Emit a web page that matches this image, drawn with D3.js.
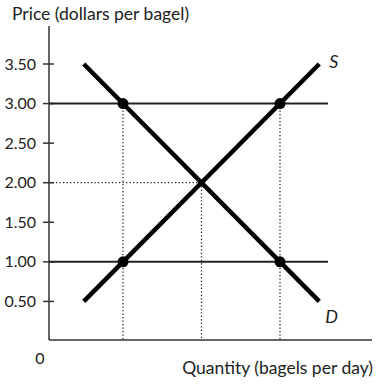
<!DOCTYPE html>
<html>
<head>
<meta charset="utf-8">
<title>bagel market</title>
<script src="https://cdnjs.cloudflare.com/ajax/libs/d3/7.8.5/d3.min.js"></script>
<style>
  html, body { margin: 0; padding: 0; background: #fff; }
  text { font-family: Lato, "Open Sans", sans-serif; fill: #222; }
</style>
</head>
<body>
<svg id="chart" width="377" height="384"></svg>
<script>
// price ticks (dollars per bagel)
var priceTicks = [0.5, 1, 1.5, 2, 2.5, 3, 3.5];
var priceLabels = ['0.50', '1.00', '1.50', '2.00', '2.50', '3.00', '3.50'];

// curves as [quantity, price] end points
var supply = [[0.5, 0.5], [3.5, 3.5]];
var demand = [[0.5, 3.5], [3.5, 0.5]];

// horizontal price lines
var priceLines = [3, 1];

// marked points on the curves
var points = [[1, 3], [3, 3], [1, 1], [3, 1]];
var equilibrium = [2, 2];

var svg = d3.select('#chart');

var x = d3.scaleLinear().domain([0, 4]).range([44.5, 358.5]);
var y = d3.scaleLinear().domain([0, 3.5]).range([341, 64]);

var axisX = 49, axisY = 340;

// axes
svg.append('line')
  .attr('x1', axisX).attr('x2', axisX)
  .attr('y1', 26).attr('y2', axisY)
  .attr('stroke', '#333').attr('stroke-width', 1.5);
svg.append('line')
  .attr('x1', axisX).attr('x2', 372)
  .attr('y1', axisY).attr('y2', axisY)
  .attr('stroke', '#333').attr('stroke-width', 1.5);

// y ticks
var tick = svg.selectAll('.tick')
  .data(priceTicks)
  .enter().append('g')
  .attr('class', 'tick')
  .attr('transform', function(d) { return 'translate(0,' + y(d) + ')'; });
tick.append('line')
  .attr('x1', 43).attr('x2', 54)
  .attr('stroke', '#333').attr('stroke-width', 1.5);
tick.append('text')
  .attr('x', 36).attr('dy', '0.35em')
  .attr('text-anchor', 'end')
  .style('font-size', '16px')
  .text(function(d, i) { return priceLabels[i]; });

svg.append('text')
  .attr('x', 40).attr('y', 364)
  .attr('text-anchor', 'middle')
  .style('font-size', '16px')
  .text('0');

// titles
svg.append('text')
  .attr('x', 12).attr('y', 20)
  .style('font-size', '17.5px')
  .text('Price (dollars per bagel)');
svg.append('text')
  .attr('x', 373).attr('y', 374)
  .attr('text-anchor', 'end')
  .style('font-size', '17.5px')
  .text('Quantity (bagels per day)');

// dotted guides
var dotted = function(x1, y1, x2, y2) {
  svg.append('line')
    .attr('x1', x1).attr('y1', y1).attr('x2', x2).attr('y2', y2)
    .attr('stroke', '#222').attr('stroke-width', 1.3)
    .attr('stroke-dasharray', '1.3,2.2');
};
points.filter(function(p) { return p[1] === 3; }).forEach(function(p) {
  dotted(x(p[0]), y(p[1]), x(p[0]), axisY);
});
dotted(x(equilibrium[0]), y(equilibrium[1]), x(equilibrium[0]), axisY);
dotted(axisX, y(equilibrium[1]), x(equilibrium[0]), y(equilibrium[1]));

// horizontal price lines
svg.selectAll('.pline')
  .data(priceLines)
  .enter().append('line')
  .attr('class', 'pline')
  .attr('x1', axisX).attr('x2', 328)
  .attr('y1', function(d) { return y(d); })
  .attr('y2', function(d) { return y(d); })
  .attr('stroke', '#222').attr('stroke-width', 2);

// supply and demand
var line = d3.line()
  .x(function(d) { return x(d[0]); })
  .y(function(d) { return y(d[1]); });

[supply, demand].forEach(function(c) {
  svg.append('path')
    .attr('d', line(c))
    .attr('fill', 'none')
    .attr('stroke', '#000')
    .attr('stroke-width', 4.5);
});

svg.append('text')
  .attr('x', x(supply[1][0]) + 10).attr('y', y(supply[1][1]) + 4)
  .style('font-size', '18px').style('font-style', 'italic')
  .text('S');
svg.append('text')
  .attr('x', x(demand[1][0]) + 6).attr('y', y(demand[1][1]) + 22)
  .style('font-size', '18px').style('font-style', 'italic')
  .text('D');

// dots
svg.selectAll('.dot')
  .data(points)
  .enter().append('circle')
  .attr('class', 'dot')
  .attr('cx', function(d) { return x(d[0]); })
  .attr('cy', function(d) { return y(d[1]); })
  .attr('r', 5.5)
  .attr('fill', '#000');
svg.append('circle')
  .attr('cx', x(equilibrium[0])).attr('cy', y(equilibrium[1]))
  .attr('r', 3.5).attr('fill', '#000');
</script>
</body>
</html>
